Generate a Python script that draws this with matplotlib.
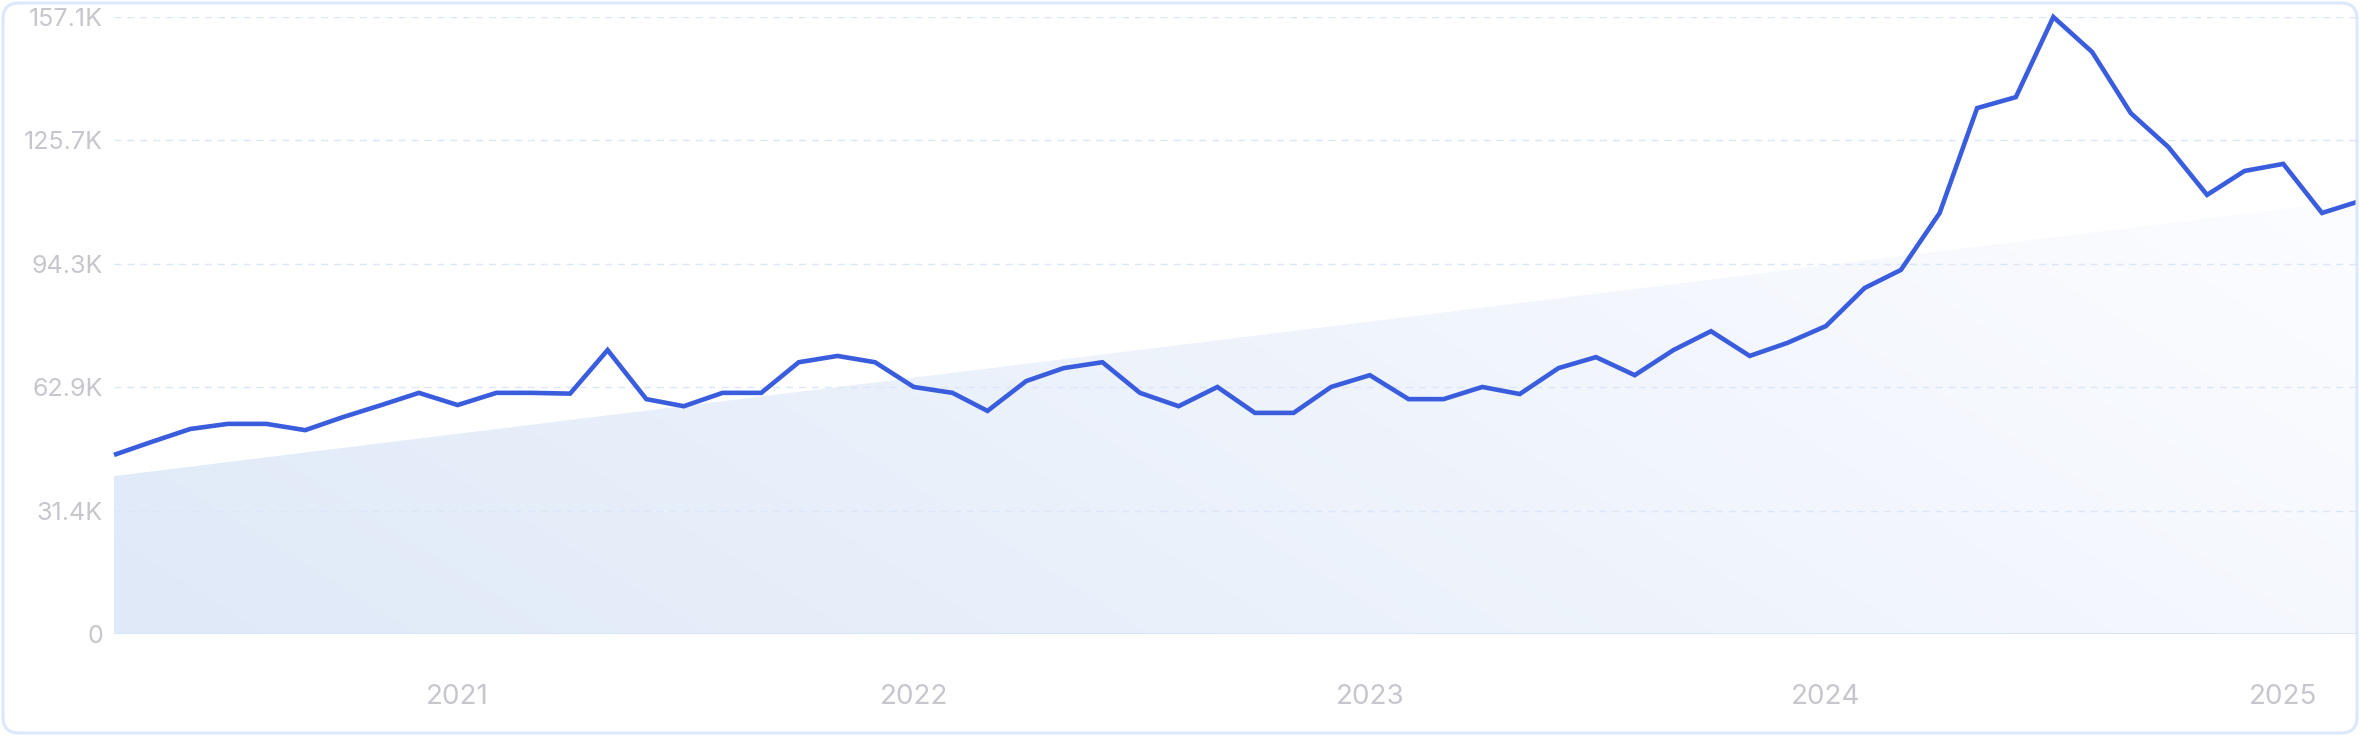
import matplotlib
matplotlib.use("Agg")
import matplotlib.pyplot as plt
import matplotlib.dates as mdates
from matplotlib.patches import FancyBboxPatch
from matplotlib.transforms import IdentityTransform
import numpy as np
import pandas as pd

# ---- data (values in thousands) ----
start_month = "2020-04-01"
values_k = [45.6, 48.9, 52.2, 53.5, 53.5, 51.9, 55.2, 58.3, 61.4, 58.3,
            61.4, 61.4, 61.2, 72.3, 59.8, 58.0, 61.4, 61.4, 69.2, 70.8,
            69.2, 62.9, 61.4, 56.8, 64.4, 67.7, 69.2, 61.4, 58.0, 62.9,
            56.3, 56.3, 62.9, 65.9, 59.8, 59.8, 62.9, 61.1, 67.7, 70.5,
            65.9, 72.3, 77.1, 70.8, 74.1, 78.4, 88.1, 92.7, 107.2, 133.9,
            136.7, 157.1, 148.2, 132.6, 124.0, 111.8, 117.9, 119.7, 107.2, 110.0]
trend_k = [40.2, 110.5]           # trend line at first and last month
y_max_k = 157.1
y_tick_labels = ["0", "31.4K", "62.9K", "94.3K", "125.7K", "157.1K"]
x_tick_years = [2021, 2022, 2023, 2024, 2025]

dates = pd.date_range(start_month, periods=len(values_k), freq="MS")

W, H = 2360, 736
fig = plt.figure(figsize=(W / 100, H / 100), dpi=100)
fig.patch.set_facecolor("white")

ax_left, ax_right, ax_top, ax_bottom = 114, 2357, 17, 634
ax = fig.add_axes([ax_left / W, (H - ax_bottom) / H,
                   (ax_right - ax_left) / W, (ax_bottom - ax_top) / H])
ax.set_facecolor("none")

x0 = mdates.date2num(dates[0])
x1 = mdates.date2num(dates[-1])
ax.set_xlim(x0, x1)
ax.set_ylim(0, y_max_k)

# gradient-filled trend area
trend_x = [dates[0], dates[-1]]
coll = ax.fill_between(trend_x, trend_k, 0, facecolor="none", edgecolor="none")
nx, ny = 400, 200
gx = np.linspace(0, 1, nx)[None, :]
gy = np.linspace(0, 1, ny)[:, None]
t = np.clip(0.8 * gx + 0.35 * gy, 0, 1)  # 0 at bottom-left, 1 toward right/top
c0 = np.array([223, 233, 248]) / 255.0
c1 = np.array([251, 252, 255]) / 255.0
img = c0[None, None, :] * (1 - t[..., None]) + c1[None, None, :] * t[..., None]
im = ax.imshow(img, extent=[x0, x1, 0, y_max_k], origin="lower",
               aspect="auto", zorder=1, interpolation="bilinear")
im.set_clip_path(coll.get_paths()[0], transform=ax.transData)

# grid lines
ticks = np.linspace(0, y_max_k, len(y_tick_labels))
for i, yv in enumerate(ticks):
    if i == 0:
        ax.axhline(yv, color="#d5e3fa", lw=1.3, zorder=2)
    else:
        ax.axhline(yv, color="#dbe6f8", lw=1.0, ls=(0, (5, 4.3)), zorder=2)

# main line
ax.plot(dates, values_k, color="#3a5ddd", lw=3.3, zorder=3,
        solid_joinstyle="miter", solid_capstyle="butt", clip_on=False)

ax.set_yticks(ticks)
ax.set_yticklabels(y_tick_labels)
ax.set_xticks([mdates.date2num(pd.Timestamp(f"{y}-01-01")) for y in x_tick_years])
ax.set_xticklabels([str(y) for y in x_tick_years])
ax.tick_params(axis="both", length=0, colors="#c6c6cd")
ax.tick_params(axis="y", pad=8, labelsize=18)
ax.tick_params(axis="x", pad=36, labelsize=20)
for lab in ax.get_xticklabels() + ax.get_yticklabels():
    lab.set_fontfamily(["Inter", "DejaVu Sans"])
for s in ax.spines.values():
    s.set_visible(False)

# rounded outer border
border = FancyBboxPatch((3, 3), W - 6, H - 6,
                        boxstyle="round,pad=0,rounding_size=16",
                        facecolor="none", edgecolor="#dde7fb", lw=2.2,
                        transform=IdentityTransform())
fig.add_artist(border)

fig.savefig("out.png", dpi=100, facecolor="white")
